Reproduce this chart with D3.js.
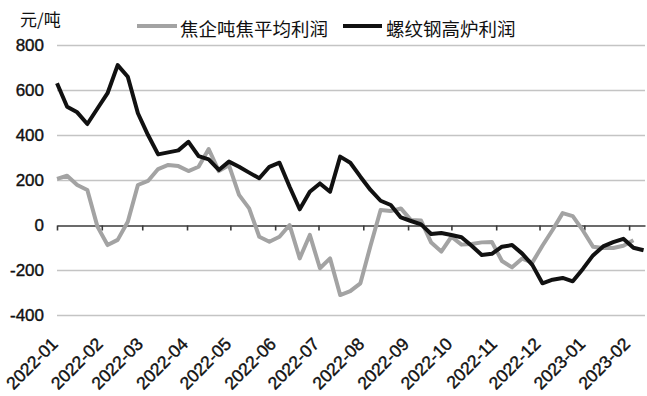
<!DOCTYPE html>
<html><head><meta charset="utf-8">
<script src="https://cdn.jsdelivr.net/npm/d3@7"></script>
<style>body{margin:0;background:#fff;overflow:hidden}</style>
</head><body><svg id="c" width="647" height="396"></svg>
<script>
const weekDates = [
 "2022-01-01","2022-01-08","2022-01-15","2022-01-22","2022-01-29",
 "2022-02-05","2022-02-12","2022-02-19","2022-02-26",
 "2022-03-05","2022-03-12","2022-03-19","2022-03-26",
 "2022-04-02","2022-04-09","2022-04-16","2022-04-23","2022-04-30",
 "2022-05-07","2022-05-14","2022-05-21","2022-05-28",
 "2022-06-04","2022-06-11","2022-06-18","2022-06-25",
 "2022-07-02","2022-07-09","2022-07-16","2022-07-23","2022-07-30",
 "2022-08-06","2022-08-13","2022-08-20","2022-08-27",
 "2022-09-03","2022-09-10","2022-09-17","2022-09-24",
 "2022-10-01","2022-10-08","2022-10-15","2022-10-22","2022-10-29",
 "2022-11-05","2022-11-12","2022-11-19","2022-11-26",
 "2022-12-03","2022-12-10","2022-12-17","2022-12-24","2022-12-31",
 "2023-01-07","2023-01-14","2023-01-21","2023-01-28",
 "2023-02-04","2023-02-11"
];
// 焦企吨焦平均利润 (gray)
const cokeProfit = [
 207,221,180,158,-5,-87,-64,17,180,198,251,269,264,242,261,340,242,268,136,76,
 -50,-72,-50,2,-146,-42,-190,-146,-309,-292,-257,-90,69,64,76,24,22,-76,-116,-50,
 -85,-82,-75,-73,-158,-186,-147,-165,-90,-20,55,42,-22,-94,-100,-100,-90,-66
];
// 螺纹钢高炉利润 (black)
const rebarProfit = [
 632,528,503,451,520,588,713,661,499,402,316,325,334,372,308,294,247,284,261,235,
 210,261,279,172,72,150,187,150,306,279,217,158,110,91,36,20,5,-38,-33,-42,
 -52,-90,-131,-126,-94,-87,-125,-175,-257,-241,-233,-248,-193,-133,-93,-74,-59,-99,-110
];
const yTicks = [800,600,400,200,0,-200,-400];
const xTickLabels = ["2022-01","2022-02","2022-03","2022-04","2022-05","2022-06","2022-07",
 "2022-08","2022-09","2022-10","2022-11","2022-12","2023-01","2023-02"];
const seriesNames = ["焦企吨焦平均利润","螺纹钢高炉利润"];
const unitLabel = "元/吨";

const svg = d3.select("#c");
const parseDay = d3.timeParse("%Y-%m-%d");
const parseMonth = d3.timeParse("%Y-%m");
const dates = weekDates.map(parseDay);

const x = d3.scaleTime().domain([parseDay("2022-01-01"), parseDay("2023-02-12")]).range([57, 645]);
const y = d3.scaleLinear().domain([-400, 800]).range([315.5, 45.5]);

const latin = "'Liberation Sans', Arial, sans-serif";
const cjk = "'Noto Sans CJK SC', sans-serif";

// gridlines
svg.append("g").selectAll("line").data(yTicks.filter(d => d !== 0)).join("line")
  .attr("x1", 57).attr("x2", 645)
  .attr("y1", d => y(d)).attr("y2", d => y(d))
  .attr("stroke", "#c4c4c4").attr("stroke-width", 1.5);

// y labels
svg.append("g").selectAll("text").data(yTicks).join("text")
  .attr("x", 44).attr("y", d => y(d)).attr("dy", "0.35em")
  .attr("text-anchor", "end")
  .attr("font-family", latin).attr("font-size", 17).attr("fill", "#111")
  .attr("stroke", "#111").attr("stroke-width", 0.4)
  .text(d => d);

// zero axis with ticks
const tickDates = xTickLabels.map(parseMonth);
const axis = d3.axisBottom(x).tickValues(tickDates).tickSize(5).tickSizeOuter(0).tickFormat("");
const ag = svg.append("g").attr("transform", `translate(0,${y(0)})`).call(axis);
ag.select(".domain").attr("stroke", "#3a3a3a").attr("stroke-width", 1.6);
ag.selectAll(".tick line").attr("stroke", "#3a3a3a").attr("stroke-width", 1.6);

// x labels at bottom, rotated
svg.append("g").selectAll("text").data(xTickLabels).join("text")
  .attr("transform", d => `translate(${x(parseMonth(d)) + 2},${345}) rotate(-45)`)
  .attr("text-anchor", "end")
  .attr("font-family", latin).attr("font-size", 17.5).attr("fill", "#111")
  .attr("stroke", "#111").attr("stroke-width", 0.4)
  .text(d => d);

// lines
const line = d3.line().x(d => x(d[0])).y(d => y(d[1]));
svg.append("path").datum(cokeProfit.map((v, i) => [dates[i], v]))
  .attr("d", line).attr("fill", "none").attr("stroke", "#a3a3a3")
  .attr("stroke-width", 4).attr("stroke-linejoin", "round");
svg.append("path").datum(rebarProfit.map((v, i) => [dates[i], v]))
  .attr("d", line).attr("fill", "none").attr("stroke", "#111")
  .attr("stroke-width", 4).attr("stroke-linejoin", "round");

// unit
svg.append("text").attr("x", 20).attr("y", 26)
  .attr("font-family", cjk).attr("font-size", 17).attr("fill", "#111").text(unitLabel);

// legend
const leg = [
  {x0: 137, x1: 177, tx: 180, color: "#a3a3a3", name: seriesNames[0]},
  {x0: 343, x1: 382, tx: 386, color: "#111", name: seriesNames[1]}
];
const lg = svg.append("g");
lg.selectAll("line").data(leg).join("line")
  .attr("x1", d => d.x0).attr("x2", d => d.x1).attr("y1", 26).attr("y2", 26)
  .attr("stroke", d => d.color).attr("stroke-width", 4);
lg.selectAll("text").data(leg).join("text")
  .attr("x", d => d.tx).attr("y", 29).attr("dy", "0.36em")
  .attr("font-family", cjk).attr("font-size", 18.5).attr("fill", "#111")
  .text(d => d.name);
</script></body></html>
